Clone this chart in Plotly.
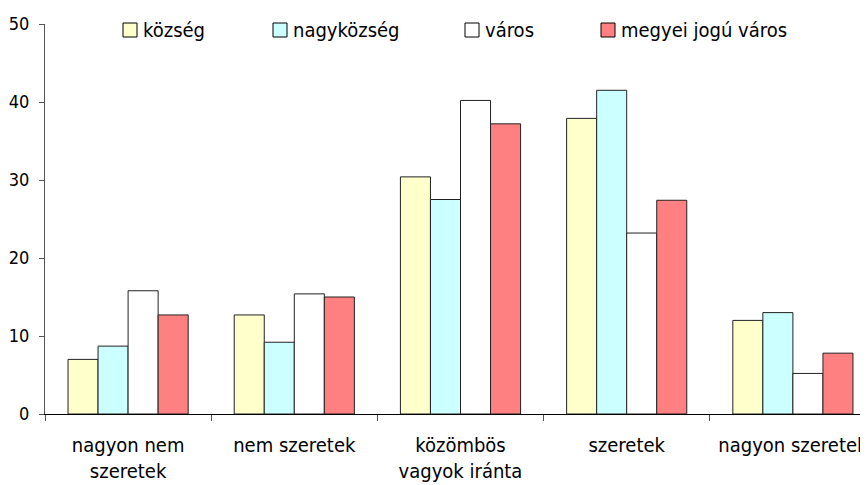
import plotly.graph_objects as go

categories = ["nagyon nem<br>szeretek", "nem szeretek", "közömbös<br>vagyok iránta", "szeretek", "nagyon szeretek"]
series_names = ["község", "nagyközség", "város", "megyei jogú város"]
kozseg = [7.0, 12.7, 30.4, 37.9, 12.0]
nagykozseg = [8.7, 9.2, 27.5, 41.5, 13.0]
varos = [15.8, 15.4, 40.2, 23.2, 5.2]
megyei = [12.7, 15.0, 37.2, 27.4, 7.8]
y_ticks = [0, 10, 20, 30, 40, 50]

colors = ["#FFFFCC", "#CCFFFF", "#FFFFFF", "#FF8080"]
values = [kozseg, nagykozseg, varos, megyei]

FONT = "DejaVu Sans Condensed, DejaVu Sans"
W, H = 868, 485
OFF = 8  # page body offset
L, R, T, B = 45 - OFF, 0, 24 - OFF, H - (414 - OFF)
pw, ph = W - L - R, H - T - B

fig = go.Figure()
for name, vals, col in zip(series_names, values, colors):
    fig.add_trace(go.Bar(
        x=categories, y=vals, name=name, showlegend=False,
        marker=dict(color=col, line=dict(color="#222222", width=1)),
    ))

# manual legend (screen pixel layout converted to paper coords)
legend_x = [123, 273, 465, 601]
sw = 14
ly0, ly1 = 23, 37
def px_x(x):
    return (x - OFF - L) / pw
def px_y(y):
    return (H - B - (y - OFF)) / ph
for name, col, x0 in zip(series_names, colors, legend_x):
    fig.add_shape(type="rect", xref="paper", yref="paper",
                  x0=px_x(x0), x1=px_x(x0 + sw),
                  y0=px_y(ly1), y1=px_y(ly0),
                  fillcolor=col, line=dict(color="#000000", width=1))
    fig.add_annotation(xref="paper", yref="paper", x=px_x(x0 + sw + 4),
                       y=px_y((ly0 + ly1) / 2), text=name, showarrow=False,
                       xanchor="left", yanchor="middle",
                       font=dict(family=FONT, size=20, color="#000000"))

fig.update_layout(
    width=W, height=H,
    margin=dict(l=L, r=R, t=T, b=B, autoexpand=False),
    paper_bgcolor="white", plot_bgcolor="white",
    barmode="group", bargap=0.277, bargroupgap=0,
    font=dict(family=FONT, size=18, color="#000000"),
    showlegend=False,
)
fig.update_xaxes(
    type="category", range=[-0.5, 4.5], automargin=False,
    showline=True, linecolor="#000000", linewidth=1,
    ticks="outside", tickson="boundaries", ticklen=6, tickcolor="#555555",
    showgrid=False, tickfont=dict(family=FONT, size=20), ticklabelstandoff=13,
)
fig.update_yaxes(
    range=[0, 50], tickvals=y_ticks, automargin=False,
    showline=True, linecolor="#555555", linewidth=1,
    ticks="outside", ticklen=5, tickcolor="#555555",
    showgrid=False, zeroline=False, tickfont=dict(family=FONT, size=18),
    ticklabelstandoff=6,
)
fig.write_html("out.html")
